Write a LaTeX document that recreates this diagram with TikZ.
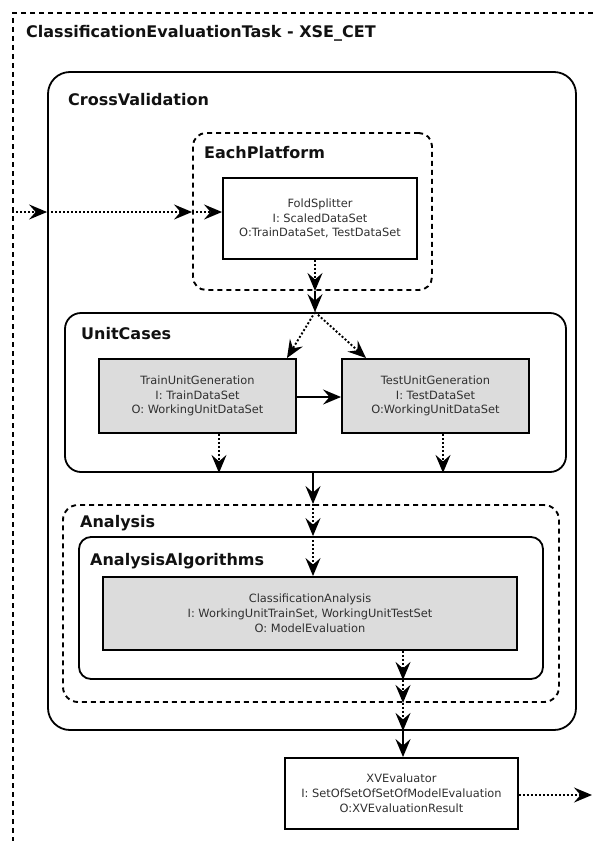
\documentclass[tikz,border=0pt]{standalone}
\usepackage{fontspec}
\setmainfont{DejaVu Sans}
\newfontfamily\boxfont{DejaVu Sans}
\newfontfamily\titlefont{DejaVu Sans}
\usetikzlibrary{arrows.meta}
\definecolor{boxgrey}{HTML}{DCDCDC}
\definecolor{txtgrey}{HTML}{303030}
\definecolor{ttlblack}{HTML}{111111}
\tikzset{
  contsolid/.style={rectangle, draw=black, line width=1.8pt, inner sep=0pt, rounded corners=#1},
  contdash/.style={rectangle, draw=black, line width=1.9pt, inner sep=0pt, rounded corners=#1, dash pattern=on 5pt off 4pt},
  procbox/.style={rectangle, draw=black, line width=1.9pt, inner sep=0pt, align=center,
    font=\boxfont\fontsize{11.4}{14.8}\selectfont, text=txtgrey},
  greybox/.style={procbox, fill=boxgrey},
  ttl/.style={anchor=base west, inner sep=0pt, font=\titlefont\bfseries\fontsize{16}{18}\selectfont, text=ttlblack},
  sarrow/.style={line width=1.9pt, -{Stealth[length=18pt,width=15pt,inset=6.5pt]}},
  darrow/.style={sarrow, dash pattern=on 2pt off 2pt},
}
\begin{document}
\begin{tikzpicture}[x=1pt,y=-1pt]
\useasboundingbox (0,0) rectangle (594,841);
\clip (0,0) rectangle (594,841);
\fill[white] (0,0) rectangle (594,841);

% outer task frame (runs off the page at right and bottom)
\node[rectangle, draw=black, line width=2pt, dash pattern=on 5pt off 4pt, inner sep=0pt,
  anchor=north west, minimum width=620pt, minimum height=870pt] (task) at (12,12) {};
\node[ttl] (tasktitle) at (26,37) {ClassificationEvaluationTask - XSE\_CET};

% containers
\node[contsolid=22pt, minimum width=528pt, minimum height=658pt] (cv) at (312,401) {};
\node[ttl] (cvtitle) at (68,105) {CrossValidation};

\node[contdash=13pt, minimum width=239pt, minimum height=157pt] (ep) at (312.5,211.5) {};
\node[ttl] (eptitle) at (204,158) {EachPlatform};

\node[contsolid=16pt, minimum width=501pt, minimum height=159pt] (uc) at (315.5,392.5) {};
\node[ttl] (uctitle) at (81,339) {UnitCases};

\node[contdash=15pt, minimum width=496pt, minimum height=197pt] (an) at (311,603.5) {};
\node[ttl] (antitle) at (80,527) {Analysis};

\node[contsolid=12pt, minimum width=464pt, minimum height=142pt] (aa) at (311,608) {};
\node[ttl] (aatitle) at (90,565) {AnalysisAlgorithms};

% process boxes
\node[procbox, fill=white, minimum width=194pt, minimum height=81pt] (fold) at (320,218.5)
  {FoldSplitter\\I: ScaledDataSet\\O:TrainDataSet, TestDataSet};
\node[greybox, minimum width=197pt, minimum height=74pt] (train) at (197.5,396)
  {TrainUnitGeneration\\I: TrainDataSet\\O: WorkingUnitDataSet};
\node[greybox, minimum width=187pt, minimum height=74pt] (test) at (435.5,396)
  {TestUnitGeneration\\I: TestDataSet\\O:WorkingUnitDataSet};
\node[greybox, minimum width=414pt, minimum height=73pt] (ca) at (310,613.5)
  {ClassificationAnalysis\\I: WorkingUnitTrainSet, WorkingUnitTestSet\\O: ModelEvaluation};
\node[procbox, fill=white, minimum width=233pt, minimum height=71pt] (xv) at (401.5,793.5)
  {XVEvaluator\\I: SetOfSetOfSetOfModelEvaluation\\O:XVEvaluationResult};

% helper coordinates
\coordinate (in) at (12,212);
\coordinate (out) at (592,795);
\coordinate (colA) at (315,0);
\coordinate (colB) at (313,0);
\coordinate (colC) at (403,0);
\coordinate (colT) at (219,0);
\coordinate (colE) at (443,0);
\coordinate (tgtT) at (287,0);
\coordinate (tgtE) at (366,0);
\coordinate (rowH) at (0,397);

% connectors
\draw[darrow] (in) -- (in -| cv.west);
\draw[darrow] (in -| cv.west) -- (in -| ep.west);
\draw[darrow] (in -| ep.west) -- (in -| fold.west);

\draw[darrow] (fold.south -| colA) -- (ep.south -| colA);
\draw[sarrow] (ep.south -| colA) -- (uc.north -| colA);
\draw[darrow] (uc.north -| colA) -- (train.north -| tgtT);
\draw[darrow] (uc.north -| colA) -- (test.north -| tgtE);
\draw[sarrow] (train.east |- rowH) -- (test.west |- rowH);
\draw[darrow] (train.south -| colT) -- (uc.south -| colT);
\draw[darrow] (test.south -| colE) -- (uc.south -| colE);

\draw[sarrow] (uc.south -| colB) -- (an.north -| colB);
\draw[darrow] (an.north -| colB) -- (aa.north -| colB);
\draw[darrow] (aa.north -| colB) -- (ca.north -| colB);
\draw[darrow] (ca.south -| colC) -- (aa.south -| colC);
\draw[darrow] (aa.south -| colC) -- (an.south -| colC);
\draw[darrow] (an.south -| colC) -- (cv.south -| colC);
\draw[sarrow] (cv.south -| colC) -- (xv.north -| colC);
\draw[darrow] (xv.east |- out) -- (out);
\end{tikzpicture}
\end{document}
